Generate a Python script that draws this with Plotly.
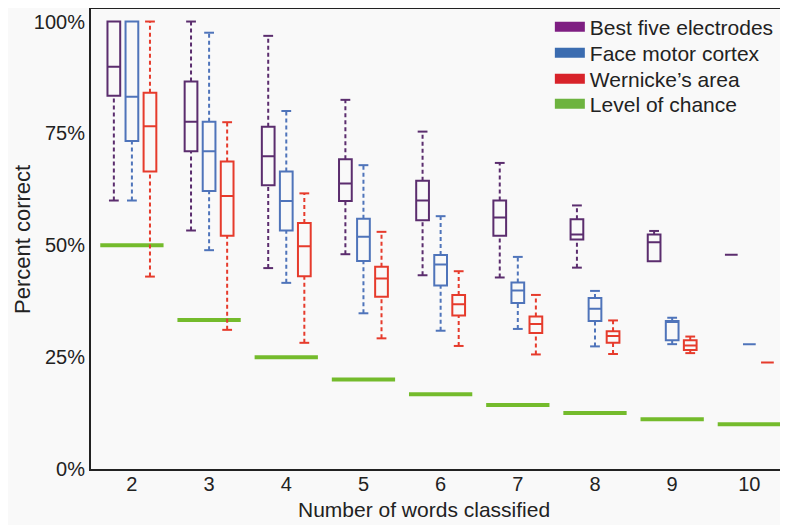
import plotly.graph_objects as go

# ---- data ----
n_words = [2, 3, 4, 5, 6, 7, 8, 9, 10]

best_max = [100, 100, 96.8, 82.5, 75.4, 68.4, 58.9, 53.2, 47.9]
best_q3 = [100, 86.6, 76.5, 69.2, 64.4, 60.0, 55.8, 52.4, 47.9]
best_med = [89.9, 77.6, 69.9, 63.8, 60.0, 56.2, 52.4, 50.7, 47.9]
best_q1 = [83.4, 71.0, 63.4, 59.9, 55.6, 52.1, 51.3, 46.4, 47.9]
best_min = [60.0, 53.3, 44.9, 48.0, 43.3, 42.8, 45.0, 46.4, 47.9]

face_max = [100, 97.5, 80.0, 67.9, 56.5, 47.4, 39.8, 33.8, 27.9]
face_q3 = [100, 77.6, 66.5, 55.9, 47.8, 41.7, 38.2, 33.1, 27.9]
face_med = [83.2, 71.0, 59.9, 51.9, 45.7, 39.9, 35.8, 32.9, 27.9]
face_q1 = [73.3, 62.1, 53.3, 46.5, 41.0, 37.1, 33.1, 28.8, 27.9]
face_min = [60.0, 48.9, 41.6, 34.8, 30.9, 31.3, 27.4, 27.9, 27.9]

wern_max = [100, 77.5, 61.6, 53.0, 44.2, 38.9, 33.2, 29.6, 23.8]
wern_q3 = [84.1, 68.7, 55.0, 45.2, 38.9, 34.1, 30.8, 28.8, 23.8]
wern_med = [76.6, 61.0, 49.8, 42.6, 36.8, 32.4, 29.7, 27.6, 23.8]
wern_q1 = [66.5, 52.1, 43.1, 38.5, 34.3, 30.4, 28.2, 26.6, 23.8]
wern_min = [43.0, 31.1, 28.2, 29.2, 27.5, 25.6, 25.7, 25.9, 23.8]

chance = [50, 33.3, 25, 20, 16.7, 14.3, 12.5, 11.1, 10]

y_tickvals = [0, 25, 50, 75, 100]
y_ticktext = ["0%", "25%", "50%", "75%", "100%"]

x_title = "Number of words classified"
y_title = "Percent correct"

series = [
    ("Best five electrodes", best_min, best_q1, best_med, best_q3, best_max, -0.234, "#5B2D6E", "#7E1E82"),
    ("Face motor cortex", face_min, face_q1, face_med, face_q3, face_max, 0.0, "#4F74BA", "#3B6CB0"),
    ("Wernicke\u2019s area", wern_min, wern_q1, wern_med, wern_q3, wern_max, 0.234, "#E63B2C", "#D8232A"),
]
GREEN = "#74BB2C"
FONT = "Liberation Sans, Arial, sans-serif"

fig = go.Figure()

# level of chance (horizontal segments via constant x error bars)
fig.add_trace(go.Scatter(
    x=n_words, y=chance, mode="markers",
    marker=dict(size=1, color=GREEN),
    error_x=dict(type="constant", value=0.41, thickness=4, width=0, color=GREEN),
    showlegend=False, hoverinfo="skip",
))

for name, mn, q1, med, q3, mx, off, col, _ in series:
    xs = [n + off for n in n_words]
    fig.add_trace(go.Box(
        x=xs, q1=q1, median=med, q3=q3, lowerfence=q1, upperfence=q3,
        width=0.165, line=dict(color=col, width=2), fillcolor="rgba(0,0,0,0)",
        showlegend=False, name=name,
    ))
    wx, wy, cx, cy = [], [], [], []
    for x, a, b, c, d in zip(xs, mn, q1, q3, mx):
        if b - a > 0.05:
            wx += [x, x, None]; wy += [a, b, None]
            cx.append(x); cy.append(a)
        if d - c > 0.05:
            wx += [x, x, None]; wy += [c, d, None]
            cx.append(x); cy.append(d)
    fig.add_trace(go.Scatter(
        x=wx, y=wy, mode="lines", line=dict(color=col, width=2, dash="4px,3px"),
        showlegend=False, hoverinfo="skip",
    ))
    fig.add_trace(go.Scatter(
        x=cx, y=cy, mode="markers",
        marker=dict(symbol="line-ew", size=7, line=dict(width=2, color=col)),
        showlegend=False, hoverinfo="skip",
    ))

# legend entries, one small legend per row
legend_entries = [(s[0], s[-1]) for s in series] + [("Level of chance", "#6DB33F")]
legend_rows_y = [0.9609, 0.9043, 0.8478, 0.7935]
legend_layout = {}
for i, ((name, col), ly) in enumerate(zip(legend_entries, legend_rows_y)):
    key = "legend" if i == 0 else f"legend{i + 1}"
    fig.add_trace(go.Scatter(x=[None], y=[None], mode="lines", name=name,
                             line=dict(color=col, width=11), legend=key))
    legend_layout[key] = dict(x=0.665, y=ly, xanchor="left", yanchor="middle",
                              bgcolor="rgba(0,0,0,0)", font=dict(size=21, family=FONT))

fig.update_layout(
    width=780, height=517,
    margin=dict(l=83, r=7, t=1, b=56, autoexpand=False),
    paper_bgcolor="#F9F9F9", plot_bgcolor="#F9F9F9",
    font=dict(family=FONT, color="#222222", size=20),
    showlegend=True,
    annotations=[
        dict(text=x_title, xref="paper", yref="paper", x=0.4826, y=-0.0891,
             xanchor="center", yanchor="middle", showarrow=False, font=dict(size=21)),
        dict(text=y_title, xref="paper", yref="paper", x=-0.1, y=0.4978, textangle=-90,
             xanchor="center", yanchor="middle", showarrow=False, font=dict(size=22)),
    ],
    **legend_layout,
)
fig.update_xaxes(
    range=[1.47, 10.41], tickvals=n_words, ticks="", showgrid=False, zeroline=False,
    showline=True, mirror=True, linecolor="#222222", linewidth=2, automargin=False,
    tickfont=dict(size=20), ticklabelstandoff=-4,
)
fig.update_yaxes(
    range=[0, 102.8], tickvals=y_tickvals, ticktext=y_ticktext, ticks="", showgrid=False,
    zeroline=False, showline=True, mirror=True, linecolor="#222222", linewidth=2,
    automargin=False, tickfont=dict(size=20),
)

fig.write_html("out.html")
